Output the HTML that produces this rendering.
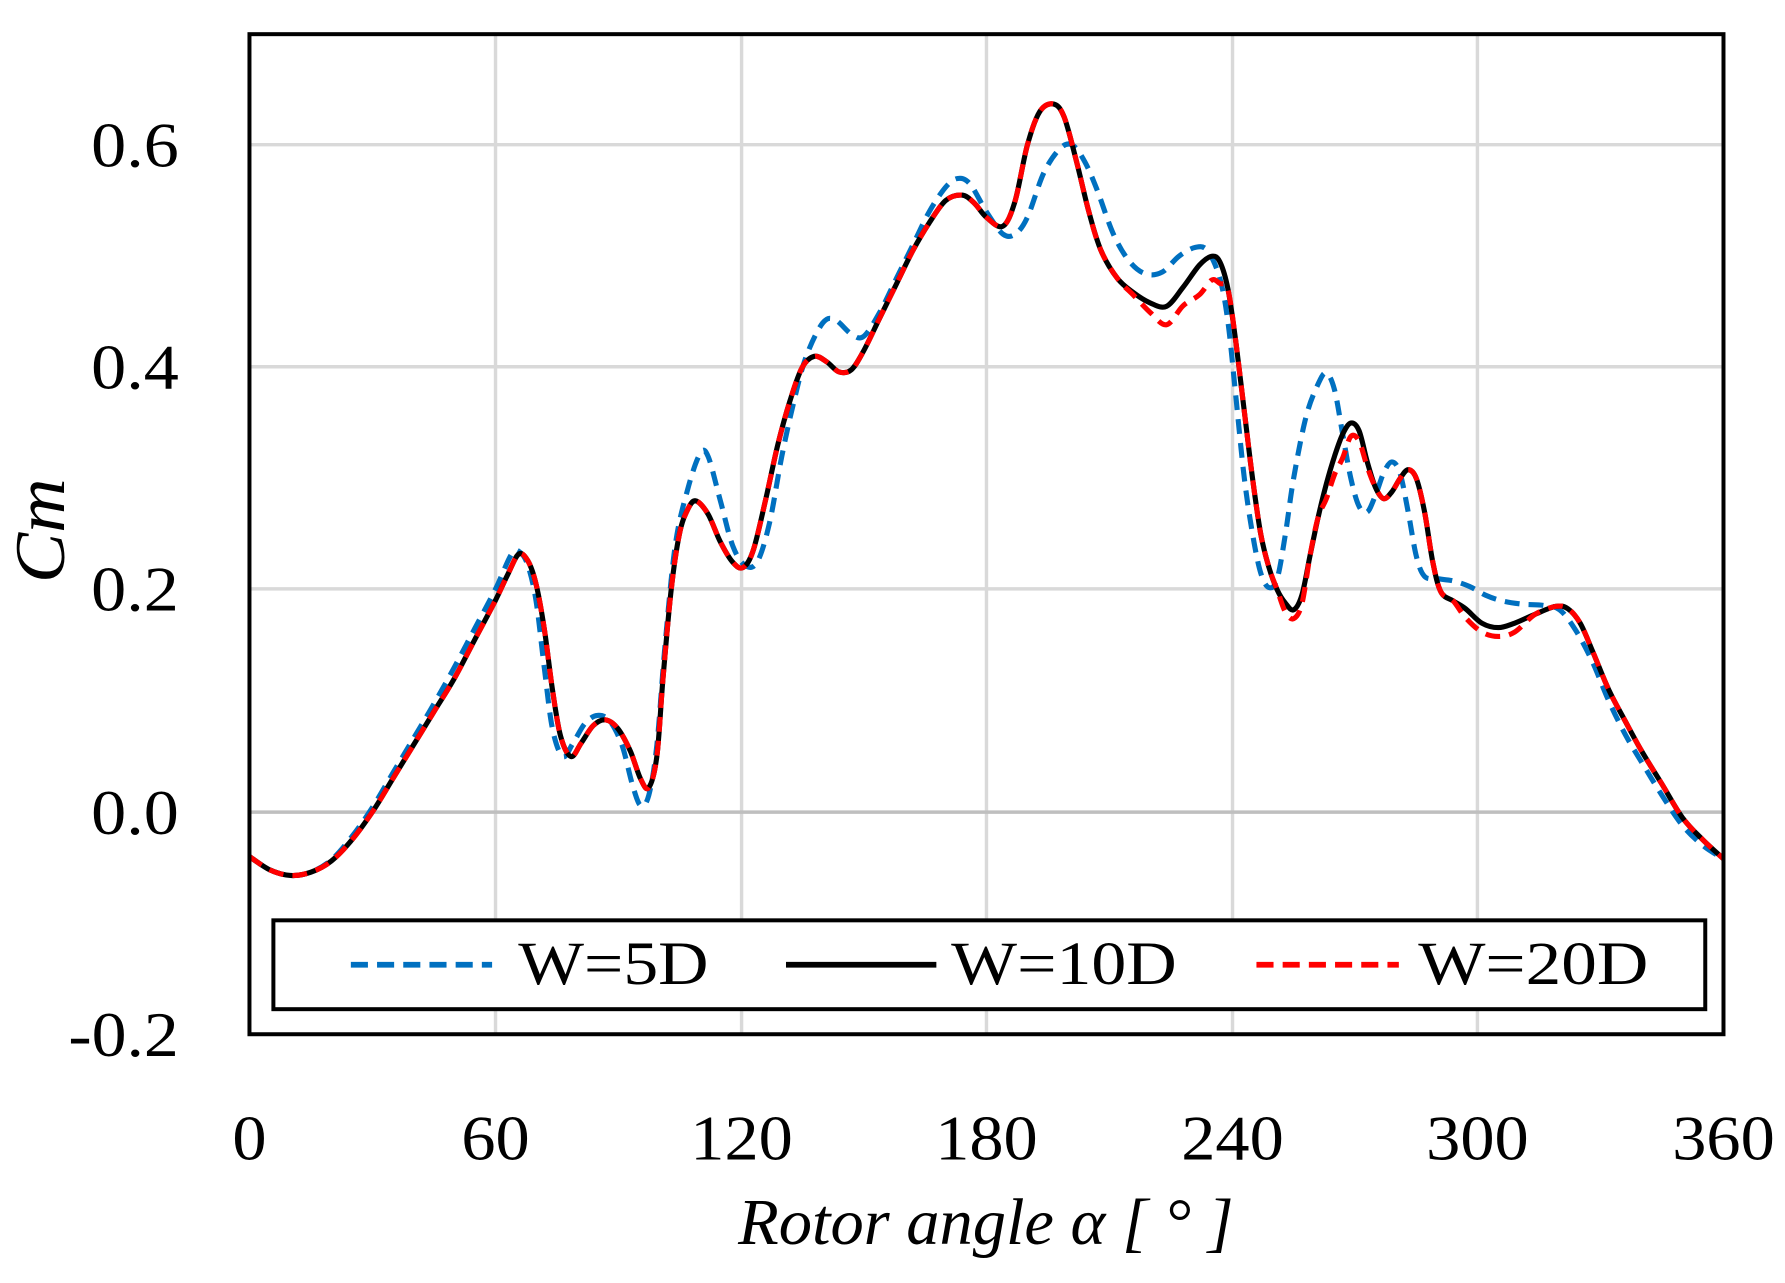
<!DOCTYPE html>
<html><head><meta charset="utf-8"><style>
html,body{margin:0;padding:0;background:#fff}
svg{display:block}
text{font-family:"Liberation Serif",serif;fill:#000}
</style></head><body>
<svg id="s" width="1785" height="1283" viewBox="0 0 1567 1126.4" preserveAspectRatio="none" xmlns="http://www.w3.org/2000/svg">
<g stroke="#d9d9d9" stroke-width="3">
<line x1="435" y1="30" x2="435" y2="908"/><line x1="651" y1="30" x2="651" y2="908"/>
<line x1="866" y1="30" x2="866" y2="908"/><line x1="1082" y1="30" x2="1082" y2="908"/>
<line x1="1297" y1="30" x2="1297" y2="908"/>
<line x1="219" y1="127" x2="1513" y2="127"/><line x1="219" y1="322" x2="1513" y2="322"/>
<line x1="219" y1="517" x2="1513" y2="517"/>
</g>
<line x1="219" y1="713" x2="1513" y2="713" stroke="#bfbfbf" stroke-width="3"/>
<g id="curves" fill="none" stroke-width="4.5" stroke-linejoin="round"></g>
<rect x="219" y="30" width="1294" height="878" fill="none" stroke="#000" stroke-width="3.5"/>
<rect x="240" y="808" width="1257" height="78" fill="#fff" stroke="#000" stroke-width="3.5"/>
<line x1="308" y1="847" x2="432" y2="847" stroke="#0070c0" stroke-width="5" stroke-dasharray="15,8"/>
<line x1="690" y1="847" x2="822" y2="847" stroke="#000" stroke-width="5"/>
<line x1="1103" y1="847" x2="1228" y2="847" stroke="#ff0000" stroke-width="5" stroke-dasharray="15,8"/>
<text x="455" y="864" font-size="54" textLength="167" lengthAdjust="spacingAndGlyphs">W=5D</text>
<text x="835" y="864" font-size="54" textLength="198" lengthAdjust="spacingAndGlyphs">W=10D</text>
<text x="1245" y="864" font-size="54" textLength="202" lengthAdjust="spacingAndGlyphs">W=20D</text>
<g font-size="56">
<text x="80" y="146" textLength="77" lengthAdjust="spacingAndGlyphs">0.6</text>
<text x="80" y="341" textLength="77" lengthAdjust="spacingAndGlyphs">0.4</text>
<text x="80" y="536" textLength="77" lengthAdjust="spacingAndGlyphs">0.2</text>
<text x="80" y="732" textLength="77" lengthAdjust="spacingAndGlyphs">0.0</text>
<text x="60" y="927" textLength="97" lengthAdjust="spacingAndGlyphs">-0.2</text>
</g>
<g font-size="56">
<text x="204" y="1018" textLength="30" lengthAdjust="spacingAndGlyphs">0</text>
<text x="405" y="1018" textLength="60" lengthAdjust="spacingAndGlyphs">60</text>
<text x="606" y="1018" textLength="90" lengthAdjust="spacingAndGlyphs">120</text>
<text x="821" y="1018" textLength="90" lengthAdjust="spacingAndGlyphs">180</text>
<text x="1037" y="1018" textLength="90" lengthAdjust="spacingAndGlyphs">240</text>
<text x="1252" y="1018" textLength="90" lengthAdjust="spacingAndGlyphs">300</text>
<text x="1468" y="1018" textLength="90" lengthAdjust="spacingAndGlyphs">360</text>
</g>
<text x="648" y="1092" font-size="58" font-style="italic" textLength="435" lengthAdjust="spacingAndGlyphs">Rotor angle α [ ° ]</text>
<text transform="translate(56,512) rotate(-90)" font-size="62" font-style="italic" textLength="92" lengthAdjust="spacingAndGlyphs">Cm</text>
</svg>
<script>
function X(d){return 219+d*3.5944}
function Y(v){return 713-v*976}
var black=[[0,-0.04],[5,-0.052],[10,-0.057],[15,-0.054],[20,-0.044],[25,-0.025],[30,0],[35,0.03],[40,0.06],[45,0.09],[50,0.12],[55,0.155],[60,0.19],[63,0.213],[65.7,0.232],[68,0.226],[70,0.205],[72,0.165],[74,0.11],[76,0.068],[78.5,0.05],[81,0.062],[84,0.078],[87,0.083],[90,0.075],[93,0.055],[95.5,0.03],[97.5,0.022],[99.5,0.05],[101,0.12],[103,0.2],[105,0.25],[107,0.272],[109,0.28],[112,0.268],[115,0.243],[118,0.225],[120.5,0.22],[123,0.235],[126,0.28],[129,0.33],[132,0.37],[135,0.4],[138,0.41],[141,0.405],[144,0.396],[147,0.398],[150,0.415],[154,0.445],[158,0.475],[162,0.505],[166,0.53],[170,0.55],[174,0.555],[177,0.548],[180,0.535],[184,0.527],[187,0.55],[190,0.6],[193,0.63],[196.4,0.637],[199,0.625],[202,0.585],[205,0.54],[208,0.505],[212,0.48],[216,0.467],[220,0.458],[224,0.455],[228,0.472],[232,0.492],[235,0.5],[237,0.495],[239,0.47],[241,0.42],[243,0.36],[245,0.3],[247,0.25],[249,0.22],[251,0.2],[253,0.188],[255,0.182],[257,0.195],[259,0.23],[261,0.265],[263,0.295],[265,0.32],[267,0.34],[269,0.35],[271,0.343],[273,0.315],[275,0.292],[277,0.282],[279,0.288],[281,0.3],[283,0.308],[285,0.3],[287,0.27],[289,0.225],[291,0.198],[294,0.19],[297,0.183],[301,0.17],[305,0.166],[309,0.17],[314,0.178],[319,0.185],[322,0.183],[325,0.17],[328,0.145],[332,0.11],[336,0.082],[340,0.055],[345,0.025],[350,-0.005],[355,-0.025],[360,-0.042]];
var blue=[[0,-0.04],[5,-0.052],[10,-0.057],[15,-0.054],[20,-0.043],[25,-0.022],[30,0.004],[35,0.035],[40,0.066],[45,0.097],[50,0.13],[55,0.165],[60,0.2],[64,0.232],[66,0.234],[68,0.222],[70,0.19],[72,0.13],[74,0.075],[76.5,0.05],[79,0.062],[82,0.08],[85,0.087],[88,0.082],[91,0.06],[93.5,0.025],[95.5,0.006],[97.5,0.015],[99.5,0.06],[101.5,0.15],[104,0.24],[107,0.29],[110,0.322],[112,0.32],[115,0.28],[118,0.24],[121,0.222],[124,0.225],[127,0.26],[130,0.32],[133,0.37],[136,0.41],[140,0.44],[143,0.443],[147,0.43],[150,0.428],[154,0.45],[158,0.48],[162,0.51],[166,0.54],[170,0.562],[173,0.57],[176,0.565],[180,0.54],[184,0.52],[187,0.52],[190,0.535],[194,0.575],[198,0.597],[201,0.6],[204,0.585],[207,0.56],[211,0.52],[215,0.495],[219,0.484],[223,0.486],[227,0.5],[231,0.508],[234,0.505],[237,0.48],[239,0.44],[241,0.37],[243,0.3],[245,0.25],[247,0.215],[249,0.202],[251,0.21],[253,0.25],[255,0.3],[258,0.355],[261,0.385],[263,0.395],[265,0.38],[267,0.34],[269,0.3],[271,0.275],[273,0.27],[275,0.285],[277,0.305],[279,0.315],[281,0.305],[283,0.27],[285,0.23],[287,0.212],[290,0.21],[294,0.208],[298,0.203],[302,0.195],[306,0.19],[311,0.187],[316,0.186],[320,0.182],[324,0.163],[328,0.135],[332,0.1],[336,0.07],[340,0.045],[345,0.015],[350,-0.012],[355,-0.03],[360,-0.042]];
var red=black.map(function(p){var d=p[0],v=p[1];
 if(d>=214&&d<=240){var w=Math.exp(-Math.pow((d-226)/7,2));v-=0.018*w; if(d>=232&&d<=238)v-=0.018;}
 if(d>=252&&d<=258)v-=0.008;
 if(d>=262&&d<=274)v-=0.012*Math.exp(-Math.pow((d-269)/4,2))+ (d<268?0.012:0);
 if(d>=296&&d<=312)v-=0.008;
 return [d,v];});
function path(pts){var P=pts.map(function(p){return [X(p[0]),Y(p[1])]});var s="M"+P[0][0].toFixed(1)+","+P[0][1].toFixed(1);
 for(var i=0;i<P.length-1;i++){var p0=P[i-1]||P[i],p1=P[i],p2=P[i+1],p3=P[i+2]||p2;
  var c1=[p1[0]+(p2[0]-p0[0])/6,p1[1]+(p2[1]-p0[1])/6],c2=[p2[0]-(p3[0]-p1[0])/6,p2[1]-(p3[1]-p1[1])/6];
  s+="C"+c1[0].toFixed(1)+","+c1[1].toFixed(1)+" "+c2[0].toFixed(1)+","+c2[1].toFixed(1)+" "+p2[0].toFixed(1)+","+p2[1].toFixed(1);}
 return s;}
var g=document.getElementById("curves"),ns="http://www.w3.org/2000/svg";
[[blue,"#0070c0","13,8"],[black,"#000",""],[red,"#ff0000","13,8"]].forEach(function(c){
 var e=document.createElementNS(ns,"path");e.setAttribute("d",path(c[0]));e.setAttribute("stroke",c[1]);
 if(c[2])e.setAttribute("stroke-dasharray",c[2]);g.appendChild(e);});
</script>
</body></html>
